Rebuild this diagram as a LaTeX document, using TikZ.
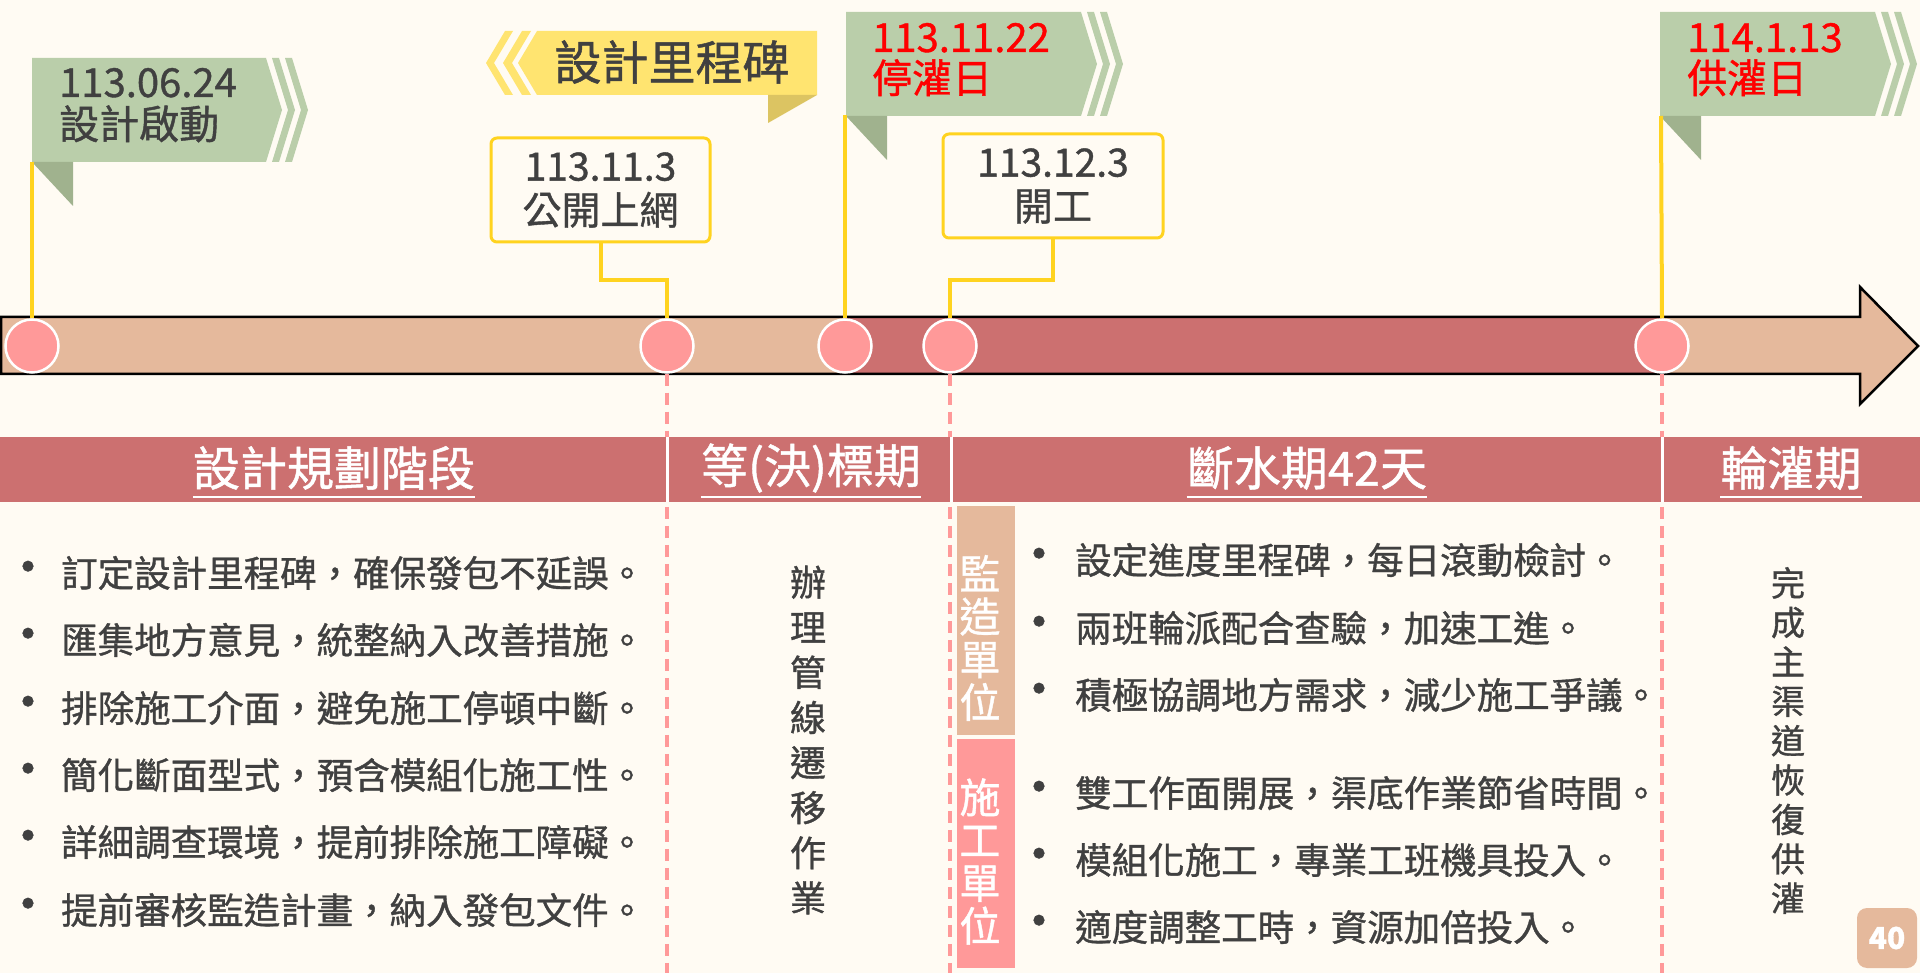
\documentclass[tikz,border=0pt]{standalone}
\usepackage{fontspec}
\setmainfont{Noto Sans CJK TC}[FakeBold=1.0]
\definecolor{bg}{HTML}{FFFBF3}
\definecolor{txt}{HTML}{404040}
\definecolor{tanc}{HTML}{E5B99C}
\definecolor{rose}{HTML}{CC7070}
\definecolor{pinkc}{HTML}{FF9999}
\definecolor{flaggreen}{HTML}{BACEAA}
\definecolor{folddark}{HTML}{A0B28E}
\definecolor{bannery}{HTML}{FFE470}
\definecolor{foldy}{HTML}{DCC462}
\definecolor{poley}{HTML}{FFD31F}
\definecolor{redt}{HTML}{FF0000}
\newcommand\GFlag[3]{%
  \begin{scope}[shift={(#1,#2)}]
    \fill[flaggreen] (0,0) -- (#3,0) -- ++(16,52) -- ++(-16,52) -- (0,104) -- cycle;
    \fill[flaggreen] (#3+6,0) -- ++(7,0) -- ++(16,52) -- ++(-16,52) -- ++(-7,0) -- ++(16,-52) -- cycle;
    \fill[flaggreen] (#3+19,0) -- ++(7,0) -- ++(16,52) -- ++(-16,52) -- ++(-7,0) -- ++(16,-52) -- cycle;
    \fill[folddark] (0,104) -- (41,104) -- (41,148) -- cycle;
  \end{scope}}
\begin{document}
\begin{tikzpicture}[x=1pt,y=-1pt,
  body/.style={font=\fontsize{36.5}{44}\selectfont, text=txt, inner sep=0, anchor=west},
  bul/.style={font=\fontsize{50}{50}\selectfont, text=txt, inner sep=0},
  hdr/.style={font=\fontsize{47}{56}\selectfont, text=white, inner sep=0},
  ul/.style={draw=white, line width=2.2},
  dot/.style={circle, fill=pinkc, draw=white, line width=2.5, minimum size=53, inner sep=0},
  pole/.style={draw=poley, line width=4},
  sepline/.style={draw=pinkc, line width=4, dash pattern=on 12 off 7},
  divider/.style={draw=white, line width=3},
  ybox/.style={draw=poley, line width=3, rounded corners=6, fill=bg, minimum width=219, minimum height=104, align=center, font=\fontsize{39}{44}\selectfont, text=txt, inner sep=0},
  ftxt/.style={font=\fontsize{40}{44}\selectfont, inner sep=0, anchor=base west},
  vtxt/.style={align=center, inner sep=0, text=txt},
  labbox/.style={minimum width=58, minimum height=229, inner sep=0},
  vlab/.style={align=center, inner sep=0, text=white, font=\fontsize{41}{42.8}\selectfont}
]
\useasboundingbox (0,0) rectangle (1920,973);
\fill[bg] (0,0) rectangle (1920,973);

% ---------- timeline bar ----------
\fill[tanc] (1,317) -- (1860,317) -- (1860,287) -- (1918,346) -- (1860,404) -- (1860,374) -- (1,374) -- cycle;
\fill[rose] (845,317) rectangle (1662,374);
\draw[black, line width=2.5, line join=miter] (1,317) -- (1860,317) -- (1860,287) -- (1918,346) -- (1860,404) -- (1860,374) -- (1,374) -- cycle;

% ---------- flags ----------
\GFlag{32}{58}{234}
\GFlag{846}{12}{235}
\GFlag{1660}{12}{215}

% yellow banner
\fill[bannery] (537,31) -- (817,31) -- (817,95) -- (537,95) -- (518,63) -- cycle;
\fill[bannery] (522,31) -- (531,31) -- (512,63) -- (531,95) -- (522,95) -- (503,63) -- cycle;
\fill[bannery] (505,31) -- (513,31) -- (494,63) -- (513,95) -- (505,95) -- (486,63) -- cycle;
\fill[foldy] (768,95) -- (817,95) -- (768,123) -- cycle;
\node[font=\fontsize{47}{56}\selectfont, text=txt, inner sep=0] (ms) at (672,62) {設計里程碑};

% flag texts
\node[ftxt, text=txt] (f1a) at (59,97) {113.06.24};
\node[ftxt, text=txt] (f1b) at (59,139) {設計啟動};
\node[ftxt, text=redt] (f3a) at (872,52) {113.11.22};
\node[ftxt, text=redt] (f3b) at (872,93) {停灌日};
\node[ftxt, text=redt] (f5a) at (1687,52) {114.1.13};
\node[ftxt, text=redt] (f5b) at (1687,93) {供灌日};

% milestone boxes
\node[ybox] (b1) at (600.5,190) {113.11.3\\公開上網};
\node[ybox, minimum width=220] (b2) at (1053,186) {113.12.3\\開工};

% circles
\node[dot] (c1) at (32,346) {};
\node[dot] (c2) at (667,346) {};
\node[dot] (c3) at (845,346) {};
\node[dot] (c4) at (950,346) {};
\node[dot] (c5) at (1662,346) {};

% poles and connectors
\coordinate (p1) at (32,162);
\coordinate (p3) at (845,115);
\coordinate (p5) at (1661,116);
\coordinate (e2) at (667,973);
\coordinate (e4) at (950,973);
\coordinate (e5) at (1662,973);
\draw[pole] (p1) -- (c1.north);
\draw[pole] (p3) -- (c3.north);
\draw[pole] (p5) -- (c5.north);
\draw[pole] (b1.south) -- ++(0,37) -| (c2.north);
\draw[pole] (b2.south) -- ++(0,41) -| (c4.north);

% dashed separators
\draw[sepline] (c2.south) -- (e2);
\draw[sepline] (c4.south) -- (e4);
\draw[sepline] (c5.south) -- (e5);

% ---------- header band ----------
\fill[rose] (0,437) rectangle (1920,502);
\draw[divider] (667,437) -- (667,502);
\draw[divider] (951,437) -- (951,502);
\draw[divider] (1662,437) -- (1662,502);
\node[hdr] (h1) at (334,468) {設計規劃階段};
\node[hdr] (h2) at (811,468) {等(決)標期};
\node[hdr] (h3) at (1307,468) {斷水期42天};
\node[hdr] (h4) at (1791,468) {輪灌期};
\draw[ul] (h1.west |- 0,497) -- (h1.east |- 0,497);
\draw[ul] (h2.west |- 0,497) -- (h2.east |- 0,497);
\draw[ul] (h3.west |- 0,497) -- (h3.east |- 0,497);
\draw[ul] (h4.west |- 0,497) -- (h4.east |- 0,497);

% ---------- left list ----------
\foreach \yy/\tt [count=\i] in {573/訂定設計里程碑，確保發包不延誤。,640/匯集地方意見，統整納入改善措施。,708/排除施工介面，避免施工停頓中斷。,775/簡化斷面型式，預含模組化施工性。,842/詳細調查環境，提前排除施工障礙。,910/提前審核監造計畫，納入發包文件。}{
  \node[bul] (lb\i) at (28,\yy) {•};
  \node[body] (lt\i) at (61,\yy) {\tt};
}

% middle column
\node[vtxt, font=\fontsize{36}{45.1}\selectfont] (mid) at (808,740) {辦\\理\\管\\線\\遷\\移\\作\\業};

% supervision / construction labels
\node[labbox, fill=tanc] (sup) at (986,620.5) {};
\node[labbox, fill=pinkc] (con) at (986,853) {};
\node[vlab] (supt) at (980,638) {監\\造\\單\\位};
\node[vlab] (cont) at (980,861.5) {施\\工\\單\\位};

% right list
\foreach \yy/\tt [count=\i] in {560/設定進度里程碑，每日滾動檢討。,628/兩班輪派配合查驗，加速工進。,695/積極協調地方需求，減少施工爭議。,793/雙工作面開展，渠底作業節省時間。,860/模組化施工，專業工班機具投入。,927/適度調整工時，資源加倍投入。}{
  \node[bul] (rb\i) at (1039,\yy) {•};
  \node[body] (rt\i) at (1075,\yy) {\tt};
}

% last column
\node[vtxt, font=\fontsize{34}{39.4}\selectfont] (fin) at (1788,740.5) {完\\成\\主\\渠\\道\\恢\\復\\供\\灌};

% page number
\node[fill=tanc, rounded corners=10, minimum size=60, inner sep=0, text=white, font=\fontsize{30}{36}\selectfont\bfseries] (pg) at (1887,938) {40};
\end{tikzpicture}
\end{document}
